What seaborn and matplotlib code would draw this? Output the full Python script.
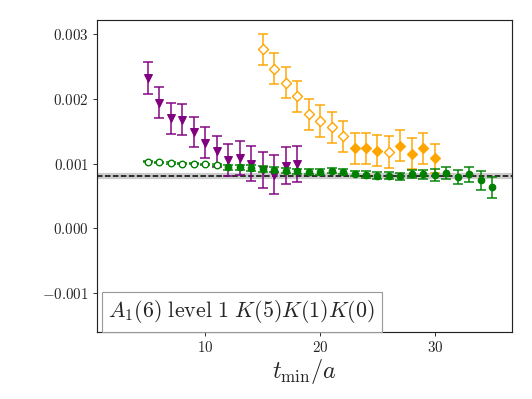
import pandas as pd
import numpy as np
import matplotlib
matplotlib.use('Agg')
import matplotlib.pyplot as plt
import seaborn as sns

# purple: triangles, t_min = 5..18
purple_t = list(range(5, 19))
purple_y = [0.00232, 0.00194, 0.00170, 0.00168, 0.00149, 0.00132, 0.00119,
            0.00106, 0.00109, 0.00100, 0.00090, 0.00083, 0.00097, 0.00100]
purple_err = [0.000245, 0.00024, 0.00024, 0.00024, 0.000237, 0.00024, 0.00024,
              0.000245, 0.00026, 0.00027, 0.00028, 0.0003, 0.00028, 0.00028]

# orange: diamonds, t_min = 15..30
orange_t = list(range(15, 31))
orange_y = [0.00277, 0.00247, 0.00225, 0.00204, 0.00176, 0.00166, 0.00156, 0.00142,
            0.00124, 0.00124, 0.00120, 0.00118, 0.00128, 0.00115, 0.00124, 0.00108]
orange_err = [0.00024, 0.00024, 0.00024, 0.00024, 0.000245, 0.000245, 0.000245, 0.00024,
              0.00024, 0.00024, 0.000237, 0.00024, 0.000237, 0.00024, 0.00024, 0.000224]
orange_open = [True, True, True, True, True, True, True, True,
               False, False, False, True, False, False, False, False]

# green: circles, t_min = 5..35
green_t = list(range(5, 36))
green_y = [0.00103, 0.00102, 0.00101, 0.00100, 0.00100, 0.00099, 0.00098,
           0.000943, 0.000943, 0.000933, 0.000918, 0.000907, 0.00089, 0.00088,
           0.000876, 0.00087, 0.00089, 0.000876, 0.000845, 0.00083, 0.000815,
           0.000815, 0.000804, 0.000835, 0.000835, 0.000825, 0.00086, 0.00079,
           0.000835, 0.00074, 0.000634]
green_err = [0.00001, 0.00001, 0.00001, 0.00001, 0.00001, 0.00001, 0.00001,
             0.00004, 0.00004, 0.00004, 0.00004, 0.00004, 0.00004, 0.00004,
             0.00004, 0.00004, 0.00004, 0.00004, 0.00004, 0.00005, 0.00005,
             0.00005, 0.00005, 0.00006, 0.00007, 0.00009, 0.00009, 0.000105,
             0.00012, 0.00014, 0.00016]
green_open = [True] * 7 + [False] * 24

fit_value = 0.000815
fit_err = 0.000035

yticks = [-0.001, 0.000, 0.001, 0.002, 0.003]
xticks = [10, 20, 30]

sns.set_style('ticks')
plt.rcParams['mathtext.fontset'] = 'cm'
plt.rcParams['font.family'] = ['DejaVu Serif']

fig = plt.figure(figsize=(6.4, 4.8), dpi=83.125)
ax = fig.add_axes([0.182, 0.168, 0.780, 0.782])

ax.axhspan(fit_value - fit_err, fit_value + fit_err, color='0.8', zorder=1)
ax.axhline(fit_value, color='black', ls='--', lw=1.3, zorder=2)

series = [
    (purple_t, purple_y, purple_err, [False] * len(purple_t), 'purple', 'v', 45),
    (orange_t, orange_y, orange_err, orange_open, 'orange', 'D', 38),
    (green_t, green_y, green_err, green_open, 'green', 'o', 32),
]

for z, (t, y, e, op, c, m, s) in enumerate(series):
    df = pd.DataFrame({'t': t, 'y': y, 'e': e, 'open': op})
    ax.errorbar(df['t'], df['y'], yerr=df['e'], fmt='none', ecolor=c,
                elinewidth=1.5, capsize=4, capthick=1.5, alpha=0.85, zorder=3 + 2 * z)
    closed = df[~df['open']]
    opened = df[df['open']]
    sns.scatterplot(data=closed, x='t', y='y', ax=ax, marker=m, s=s, color=c,
                    edgecolor=c, linewidth=1, zorder=4 + 2 * z)
    sns.scatterplot(data=opened, x='t', y='y', ax=ax, marker=m, s=s, color='white',
                    edgecolor=c, linewidth=1.2, zorder=4 + 2 * z)

ax.set_xlim(0.55, 36.7)
ax.set_ylim(-0.0016, 0.00322)
ax.set_xticks(xticks)
ax.set_xticklabels(['$%d$' % v for v in xticks], fontsize=13)
ax.set_yticks(yticks)
ax.set_yticklabels(['$%.3f$' % v if v != 0 else '$0.000$' for v in yticks], fontsize=13)
ax.set_xlabel(r'$t_{\rm min}/a$', fontsize=21, labelpad=2)
ax.set_ylabel('')

for sp in ax.spines.values():
    sp.set_color('#222222')
    sp.set_linewidth(1.0)

ax.text(0.028, 0.022, r'$A_1(6)\ \mathrm{level}\ 1\ K(5)K(1)K(0)$',
        transform=ax.transAxes, fontsize=19, ha='left', va='bottom',
        bbox=dict(boxstyle='square,pad=0.3', facecolor='white', edgecolor='0.6', lw=1))

fig.savefig('out.png', dpi=83.125)
